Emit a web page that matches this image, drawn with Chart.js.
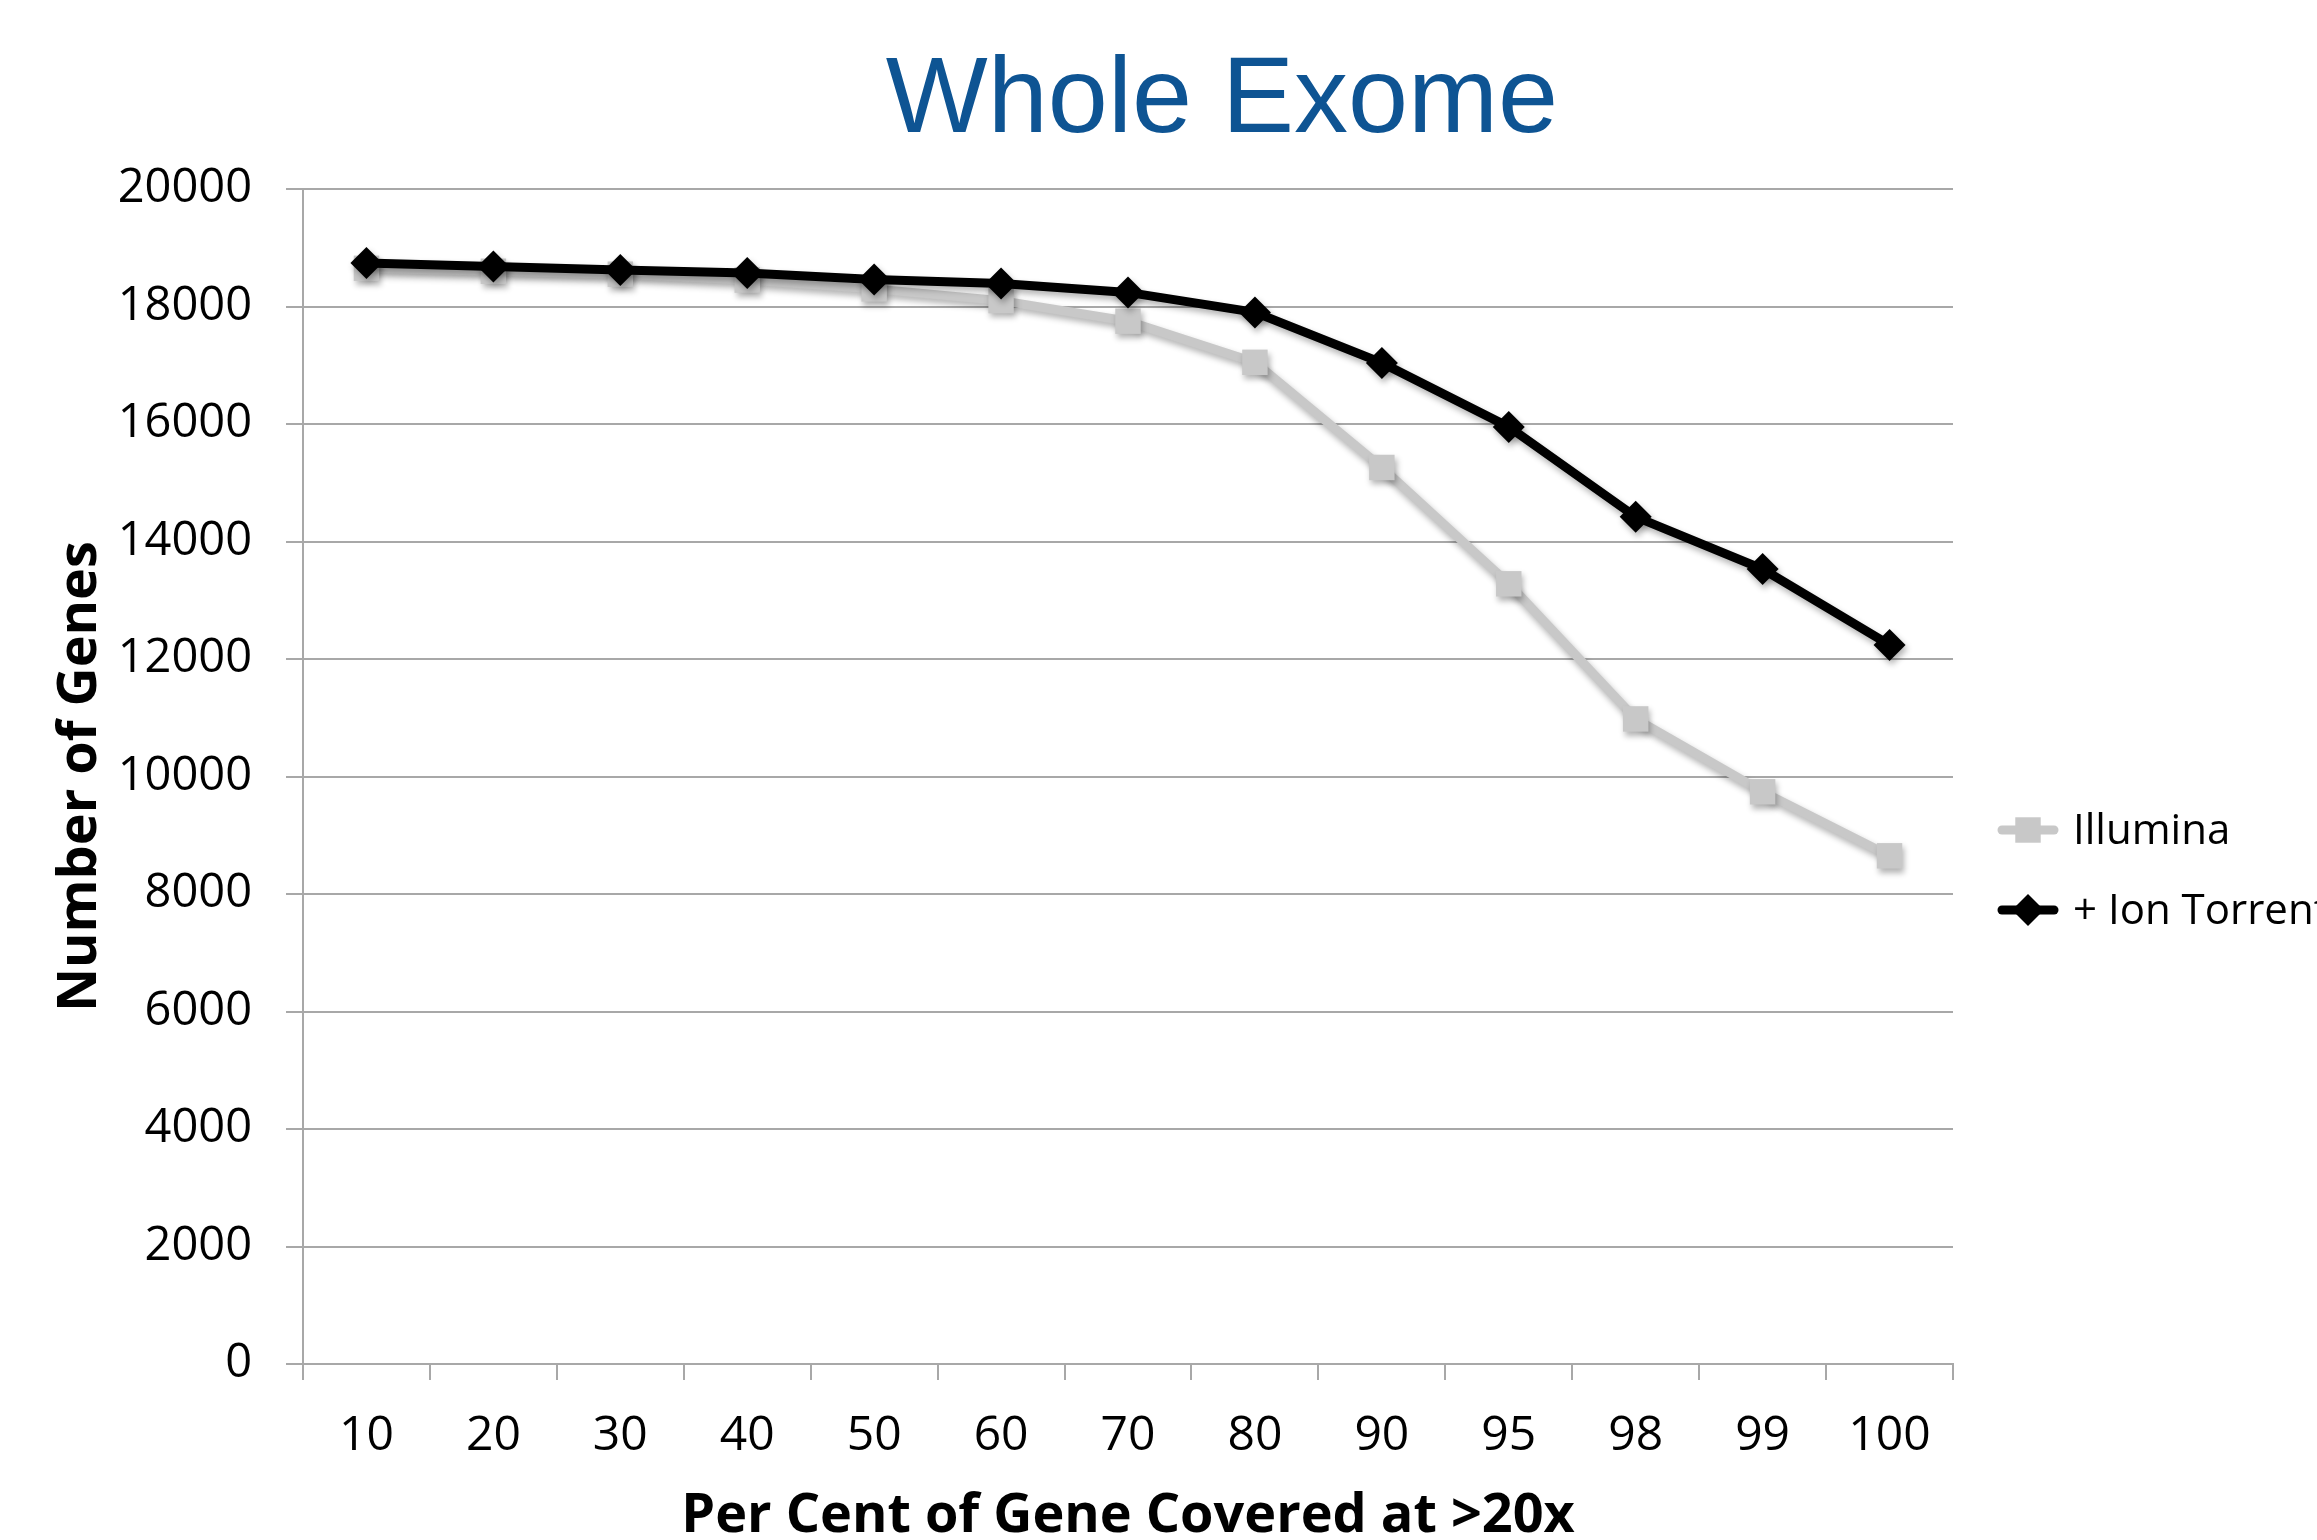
<!DOCTYPE html>
<html>
<head>
<meta charset="utf-8">
<script src="https://cdn.jsdelivr.net/npm/chart.js@4.4.1/dist/chart.umd.min.js"></script>
<style>
  body { margin: 0; background: #fff; }
  canvas { display: block; }
</style>
</head>
<body>
<canvas id="chart" width="2317" height="1540"></canvas>
<script>
// data
const categories = ['10', '20', '30', '40', '50', '60', '70', '80', '90', '95', '98', '99', '100'];
const illumina = [18650, 18600, 18550, 18450, 18300, 18100, 17750, 17050, 15260, 13280, 10980, 9740, 8650];
const ionTorrent = [18740, 18680, 18620, 18570, 18460, 18390, 18240, 17900, 17040, 15950, 14420, 13530, 12240];
const yMin = 0;
const yMax = 20000;
const yStep = 2000;

const FONT = '"Open Sans", "Liberation Sans", sans-serif';
const GRID = '#a8a8a8';

// title drawn by hand so it can sit off-centre like the original
const titlePlugin = {
  id: 'bigTitle',
  afterDraw(chart) {
    const c = chart.ctx;
    c.save();
    c.font = '108px "Liberation Sans", Arial, sans-serif';
    c.fillStyle = '#0e5493';
    c.textAlign = 'center';
    c.textBaseline = 'middle';
    c.fillText('Whole Exome', 1222, 102);
    c.restore();
  }
};

// soft drop shadow under lines and markers
const shadowPlugin = {
  id: 'shadow',
  beforeDatasetsDraw(chart) {
    const c = chart.ctx;
    c.save();
    c.shadowColor = 'rgba(0,0,0,0.3)';
    c.shadowBlur = 6;
    c.shadowOffsetX = 2;
    c.shadowOffsetY = 4;
  },
  afterDatasetsDraw(chart) {
    chart.ctx.restore();
  }
};

// legend: line with marker, then label (text runs off the right edge)
const legendPlugin = {
  id: 'lineLegend',
  afterDraw(chart) {
    const c = chart.ctx;
    const rows = [[0, 830], [1, 910]];
    rows.forEach(([i, y]) => {
      const ds = chart.data.datasets[i];
      c.save();
      c.strokeStyle = ds.borderColor;
      c.lineWidth = ds.borderWidth;
      c.lineCap = 'round';
      c.beginPath();
      c.moveTo(2002, y);
      c.lineTo(2054, y);
      c.stroke();
      c.fillStyle = ds.pointBackgroundColor;
      c.strokeStyle = ds.pointBorderColor;
      c.lineWidth = 0;
      Chart.helpers.drawPoint(c, { pointStyle: ds.pointStyle, radius: ds.pointRadius, rotation: 0, borderWidth: 0 }, 2028, y);
      c.fillStyle = '#000';
      c.font = '42px ' + FONT;
      c.textAlign = 'left';
      c.textBaseline = 'middle';
      c.fillText(ds.label, 2073, y + 2);
      c.restore();
    });
  }
};

new Chart(document.getElementById('chart'), {
  type: 'line',
  data: {
    labels: categories,
    datasets: [{
      label: 'Illumina',
      data: illumina,
      borderColor: '#c8c8c8',
      borderWidth: 9,
      pointStyle: 'rect',
      pointRadius: 18,
      pointBorderWidth: 0,
      pointBackgroundColor: '#c8c8c8',
      pointBorderColor: '#c8c8c8',
      tension: 0,
      order: 1
    }, {
      label: '+ Ion Torrent',
      data: ionTorrent,
      borderColor: '#000',
      borderWidth: 9,
      pointStyle: 'rectRot',
      pointRadius: 16,
      pointBorderWidth: 0,
      pointBackgroundColor: '#000',
      pointBorderColor: '#000',
      tension: 0,
      order: 0
    }]
  },
  options: {
    responsive: false,
    devicePixelRatio: 1,
    animation: false,
    layout: { padding: { top: 189, right: 364, left: 44, bottom: 0 } },
    plugins: {
      legend: { display: false },
      tooltip: { enabled: false }
    },
    scales: {
      x: {
        offset: true,
        grid: { offset: true, drawOnChartArea: false, drawTicks: true, tickLength: 16, color: GRID, lineWidth: 2 },
        border: { color: GRID, width: 2 },
        ticks: { color: '#000', font: { family: FONT, size: 48 }, padding: 28, maxRotation: 0 },
        title: { display: true, text: 'Per Cent of Gene Covered at >20x', color: '#000', font: { family: FONT, size: 54, weight: 'bold', lineHeight: 0.7 } },
        afterFit(scale) { scale.height = 176; }
      },
      y: {
        min: yMin,
        max: yMax,
        grid: { color: GRID, lineWidth: 2, tickLength: 17 },
        border: { color: GRID, width: 2 },
        ticks: {
          stepSize: yStep,
          color: '#000',
          font: { family: FONT, size: 47 },
          padding: 34,
          callback: v => String(v)
        },
        title: { display: true, text: 'Number of Genes', color: '#000', font: { family: FONT, size: 54, weight: 'bold' } },
        afterFit(scale) { scale.width = 259; }
      }
    }
  },
  plugins: [shadowPlugin, titlePlugin, legendPlugin]
});
</script>
</body>
</html>
